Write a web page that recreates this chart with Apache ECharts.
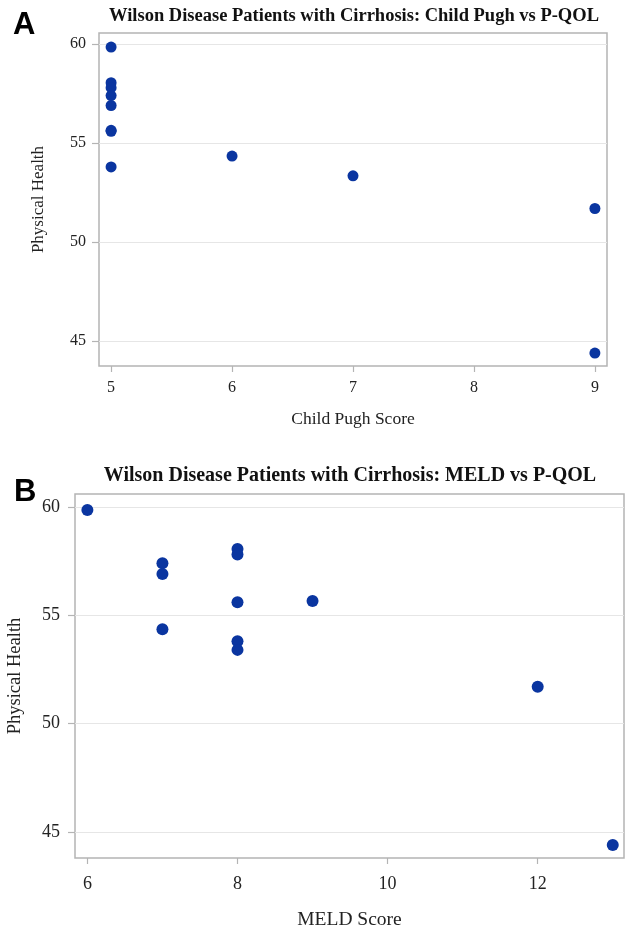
<!DOCTYPE html>
<html>
<head>
<meta charset="utf-8">
<script src="https://cdn.jsdelivr.net/npm/echarts@6/dist/echarts.min.js"></script>
<style>
html,body{margin:0;padding:0;background:#fff;}
#chart{width:629px;height:929px;}
</style>
</head>
<body>
<div id="chart"></div>
<script>
// Panel A: Child Pugh score vs Physical Health
const childPughScore = [5, 5, 5, 5, 5, 5, 5, 5, 6, 7, 9, 9];
const childPughHealth = [59.85, 58.05, 57.8, 57.4, 56.9, 55.65, 55.6, 53.8, 54.35, 53.35, 51.7, 44.4];
// Panel B: MELD score vs Physical Health
const meldScore = [6, 7, 7, 7, 8, 8, 8, 8, 8, 9, 12, 13];
const meldHealth = [59.85, 57.4, 56.9, 54.35, 58.05, 57.8, 55.6, 53.8, 53.4, 55.65, 51.7, 44.4];
// Tick labels
const xTicksA = [5, 6, 7, 8, 9];
const xTicksB = [6, 8, 10, 12];
const yTicks = [45, 50, 55, 60];

const titleA = 'Wilson Disease Patients with Cirrhosis: Child Pugh vs P-QOL';
const titleB = 'Wilson Disease Patients with Cirrhosis: MELD vs P-QOL';

const serif = '"Liberation Serif", "Times New Roman", serif';
const markerColor = '#0a35a0';
const frameColor = '#b4b4b4';
const gridColor = '#e6e6e6';

function xAxisCfg(idx, min, max, ticks, name, gap, margin, fs, nfs) {
  return {
    gridIndex: idx, type: 'value', min: min, max: max,
    name: name, nameLocation: 'middle', nameGap: gap,
    nameTextStyle: {fontFamily: serif, fontSize: nfs, color: '#222'},
    axisLine: {show: false},
    axisTick: {show: true, inside: false, length: 6, customValues: ticks, lineStyle: {color: frameColor, width: 1.2}},
    axisLabel: {customValues: ticks, fontFamily: serif, fontSize: fs, color: '#222', margin: margin},
    splitLine: {show: false}
  };
}
function yAxisCfg(idx, min, max, ticks, name, gap, margin, fs, nfs) {
  return {
    gridIndex: idx, type: 'value', min: min, max: max,
    name: name, nameLocation: 'middle', nameGap: gap,
    nameTextStyle: {fontFamily: serif, fontSize: nfs, color: '#222'},
    axisLine: {show: false},
    axisTick: {show: true, inside: false, length: 7, customValues: ticks, lineStyle: {color: frameColor, width: 1.2}},
    axisLabel: {customValues: ticks, fontFamily: serif, fontSize: fs, color: '#222', margin: margin},
    splitLine: {show: true, lineStyle: {color: gridColor, width: 1.2}}
  };
}

const chart = echarts.init(document.getElementById('chart'), null, {renderer: 'canvas'});
chart.setOption({
  animation: false,
  backgroundColor: '#fff',
  title: [
    {text: titleA, left: 349, top: 2, textAlign: 'center',
     textStyle: {fontFamily: serif, fontWeight: 'bold', fontSize: 18.5, color: '#111'}},
    {text: titleB, left: 345, top: 461, textAlign: 'center',
     textStyle: {fontFamily: serif, fontWeight: 'bold', fontSize: 20, color: '#111'}},
    {text: 'A', left: 8, top: 5,
     textStyle: {fontFamily: '"Liberation Sans", Arial, sans-serif', fontWeight: 'bold', fontSize: 31, color: '#000'}},
    {text: 'B', left: 9, top: 472,
     textStyle: {fontFamily: '"Liberation Sans", Arial, sans-serif', fontWeight: 'bold', fontSize: 31, color: '#000'}}
  ],
  grid: [
    {left: 99, top: 33, width: 508, height: 333, show: true, borderColor: frameColor, borderWidth: 1.5,
     backgroundColor: 'transparent', containLabel: false, outerBoundsMode: 'none'},
    {left: 75, top: 494, width: 549, height: 364, show: true, borderColor: frameColor, borderWidth: 1.5,
     backgroundColor: 'transparent', containLabel: false, outerBoundsMode: 'none'}
  ],
  xAxis: [
    xAxisCfg(0, 4.9, 9.1, xTicksA, 'Child Pugh Score', 44, 14, 16, 17.5),
    xAxisCfg(1, 5.835, 13.15, xTicksB, 'MELD Score', 52, 17, 18, 19.5)
  ],
  yAxis: [
    yAxisCfg(0, 43.75, 60.56, yTicks, 'Physical Health', 52, 13, 16, 17),
    yAxisCfg(1, 43.8, 60.59, yTicks, 'Physical Health', 50, 15, 18, 18.5)
  ],
  series: [
    {type: 'scatter', xAxisIndex: 0, yAxisIndex: 0, symbol: 'circle', symbolSize: 11,
     itemStyle: {color: markerColor, opacity: 1},
     data: childPughScore.map((x, i) => [x, childPughHealth[i]])},
    {type: 'scatter', xAxisIndex: 1, yAxisIndex: 1, symbol: 'circle', symbolSize: 12,
     itemStyle: {color: markerColor, opacity: 1},
     data: meldScore.map((x, i) => [x, meldHealth[i]])}
  ]
});
</script>
</body>
</html>
